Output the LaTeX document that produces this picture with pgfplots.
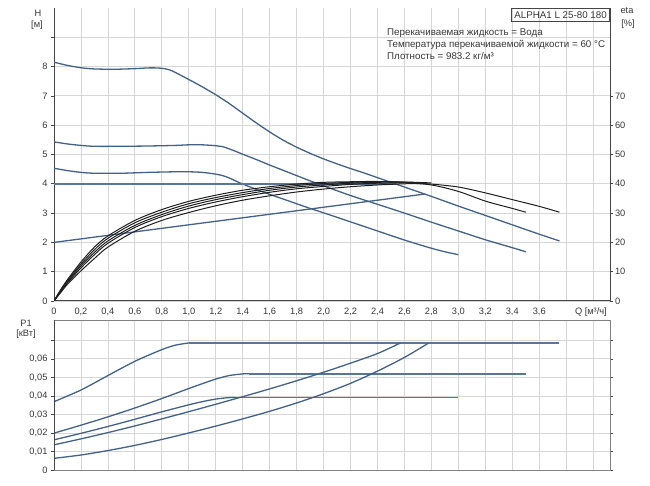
\documentclass[border=0pt]{standalone}
\usepackage{fontspec}
\setmainfont{Liberation Sans}
\usepackage{pgfplots}
\pgfplotsset{compat=1.18}
\definecolor{curveblue}{RGB}{66,98,136}
\definecolor{flatblue}{RGB}{88,118,152}
\definecolor{gridgray}{RGB}{214,214,214}
\definecolor{axgray}{RGB}{70,70,70}
\definecolor{boxgray}{RGB}{130,130,130}
\definecolor{txtgray}{RGB}{55,55,55}
\newcommand{\fs}{\fontsize{9.3}{11}\selectfont}
\newcommand{\finfo}{\fontsize{9.8}{11}\selectfont}
\pgfplotsset{
  chartbase/.style={
    scale only axis, width=556bp, xmin=0, xmax=4.125,
    xtick={0,0.2,0.4,0.6,0.8,1.0,1.2,1.4,1.6,1.8,2.0,2.2,2.4,2.6,2.8,3.0,3.2,3.4,3.6,3.8,4.0},
    grid=major, major grid style={gridgray, line width=0.8bp},
    tick label style={font=\fs, text=txtgray},
    tick align=outside, major tick length=3bp,
    tick style={axgray, line width=0.7bp},
    scaled ticks=false,
  },
  bluecurve/.style={curveblue, line width=1.3bp, smooth},
  straightblue/.style={flatblue, line width=1.6bp},
  blackcurve/.style={black!88, line width=1.0bp, smooth},
}
\begin{document}
\begin{tikzpicture}
\useasboundingbox (0bp,0bp) rectangle (650bp,486bp);
% ---------------- top panel: H ----------------
\begin{axis}[chartbase, at={(54bp,185bp)}, anchor=south west, height=293bp,
  ymin=0, ymax=10, ytick={0,1,2,3,4,5,6,7,8,9},
  yticklabels={0,1,2,3,4,5,6,7,8,{}},
  xticklabels={0,{0,2},{0,4},{0,6},{0,8},{1,0},{1,2},{1,4},{1,6},{1,8},{2,0},{2,2},{2,4},{2,6},{2,8},{3,0},{3,2},{3,4},{3,6},{},{}},
  axis x line*=bottom, axis y line*=left,
  axis line style={axgray, line width=1bp},
  xtick style={draw=none},
  xticklabel style={yshift=-1bp},
]
% speed III
\addplot[bluecurve] coordinates {(0,8.15)(0.1,8.04)(0.2,7.96)(0.3,7.92)(0.45,7.91)(0.6,7.93)(0.7,7.955)(0.78,7.95)(0.85,7.9)(0.9,7.8)(1.0,7.56)(1.1,7.31)(1.2,7.04)(1.3,6.74)(1.4,6.41)(1.5,6.08)(1.6,5.77)(1.7,5.49)(1.8,5.25)(1.9,5.04)(2.0,4.85)(2.1,4.68)(2.2,4.52)(2.3,4.37)(2.4,4.21)(2.5,4.05)(2.6,3.89)(2.7,3.73)(2.8,3.57)(3.0,3.24)(3.2,2.92)(3.4,2.6)(3.6,2.28)(3.75,2.05)};
% speed II
\addplot[bluecurve] coordinates {(0,5.43)(0.1,5.36)(0.2,5.31)(0.3,5.28)(0.5,5.28)(0.7,5.29)(0.9,5.31)(1.0,5.33)(1.1,5.33)(1.2,5.3)(1.25,5.27)(1.33,5.14)(1.4,5.01)(1.5,4.83)(1.6,4.64)(1.7,4.46)(1.8,4.28)(1.9,4.1)(2.0,3.93)(2.2,3.6)(2.4,3.3)(2.6,3.0)(2.8,2.69)(3.0,2.39)(3.2,2.09)(3.4,1.82)(3.5,1.68)};
% speed I
\addplot[bluecurve] coordinates {(0,4.53)(0.1,4.45)(0.2,4.39)(0.3,4.36)(0.5,4.36)(0.7,4.39)(0.9,4.41)(1.0,4.41)(1.1,4.39)(1.2,4.33)(1.25,4.28)(1.3,4.2)(1.38,4.03)(1.5,3.81)(1.6,3.64)(1.7,3.48)(1.8,3.32)(1.9,3.16)(2.0,3.01)(2.2,2.7)(2.4,2.39)(2.6,2.08)(2.8,1.8)(2.9,1.68)(3.0,1.58)};
% constant pressure
\addplot[straightblue] coordinates {(0,4.0)(2.54,4.0)};
% proportional pressure
\addplot[curveblue, line width=1.3bp] coordinates {(0,2.0)(2.75,3.65)};
\end{axis}
% ---------------- top panel: eta (right axis) ----------------
\begin{axis}[scale only axis, width=556bp, height=293bp, at={(54bp,185bp)}, anchor=south west,
  xmin=0, xmax=4.125, ymin=0, ymax=100,
  axis x line=none, axis y line*=right,
  axis line style={axgray, line width=1bp},
  ytick={0,10,20,30,40,50,60,70}, yticklabels={0,10,20,30,40,50,60,70},
  tick label style={font=\fs, text=txtgray},
  tick align=outside, major tick length=3bp, tick style={axgray, line width=0.7bp},
  yticklabel style={xshift=-1.5bp},
]
\addplot[blackcurve] coordinates {(0,0)(0.05,3.9)(0.1,7.3)(0.2,13.3)(0.3,18.4)(0.4,22.2)(0.6,27.5)(0.8,31.2)(1.0,34.0)(1.2,36.1)(1.4,37.8)(1.6,39.0)(1.8,39.9)(2.0,40.5)(2.2,40.7)(2.35,40.8)(2.5,40.7)(2.6,40.5)};
\addplot[blackcurve] coordinates {(0,0)(0.05,3.7)(0.1,6.9)(0.2,12.6)(0.3,17.5)(0.4,21.4)(0.6,26.7)(0.8,30.3)(1.0,33.2)(1.2,35.3)(1.4,37.0)(1.6,38.4)(1.8,39.4)(2.0,40.1)(2.2,40.5)(2.4,40.7)(2.5,40.7)(2.7,40.4)};
\addplot[blackcurve] coordinates {(0,0)(0.05,3.5)(0.1,6.5)(0.2,12.0)(0.3,16.6)(0.4,20.5)(0.6,25.8)(0.8,29.5)(1.0,32.4)(1.2,34.6)(1.4,36.3)(1.6,37.8)(1.8,38.9)(2.0,39.6)(2.2,40.2)(2.4,40.5)(2.6,40.6)(2.8,40.3)};
\addplot[blackcurve] coordinates {(0,0)(0.05,3.2)(0.1,6.2)(0.2,11.3)(0.3,15.8)(0.4,19.7)(0.6,25.1)(0.8,28.8)(1.0,31.6)(1.2,33.8)(1.4,35.6)(1.6,37.1)(1.8,38.3)(2.0,39.1)(2.2,39.8)(2.4,40.2)(2.6,40.3)(2.8,39.6)(3.0,37.4)(3.2,34.1)(3.4,31.6)(3.5,30.3)};
\addplot[blackcurve] coordinates {(0,0)(0.05,2.9)(0.1,5.7)(0.2,10.3)(0.3,14.5)(0.4,18.4)(0.6,23.8)(0.8,27.5)(1.0,30.2)(1.2,32.5)(1.4,34.4)(1.6,35.9)(1.8,37.2)(2.0,38.2)(2.2,39.0)(2.4,39.6)(2.6,40.0)(2.7,40.1)(2.8,39.9)(3.0,38.9)(3.2,36.9)(3.4,34.6)(3.6,32.3)(3.75,30.3)};
\end{axis}
% ---------------- bottom panel: P1 ----------------
\begin{axis}[chartbase, at={(54bp,16bp)}, anchor=south west, height=150bp,
  ymin=0, ymax=0.081, ytick={0,0.01,0.02,0.03,0.04,0.05,0.06,0.07},
  yticklabels={0,{0,01},{0,02},{0,03},{0,04},{0,05},{0,06},{}},
  xticklabels={}, xtick style={draw=none},
  axis line style={boxgray, line width=0.9bp},
]
\addplot[bluecurve] coordinates {(0,0.0369)(0.2,0.0432)(0.4,0.0510)(0.6,0.0587)(0.8,0.0650)(0.9,0.0674)(1.0,0.0686)};
\addplot[straightblue] coordinates {(1.0,0.0686)(3.75,0.0686)};
\addplot[bluecurve] coordinates {(0,0.0199)(0.2,0.0242)(0.4,0.0287)(0.6,0.0335)(0.8,0.0386)(1.0,0.0440)(1.1,0.0466)(1.2,0.0491)(1.3,0.0510)(1.4,0.0519)(1.45,0.0520)};
\addplot[straightblue] coordinates {(1.45,0.0520)(3.5,0.0520)};
\addplot[bluecurve] coordinates {(0,0.0163)(0.2,0.0198)(0.4,0.0235)(0.6,0.0274)(0.8,0.0314)(1.0,0.0352)(1.1,0.0369)(1.2,0.0383)(1.3,0.0391)(1.35,0.0392)};
\addplot[straightblue] coordinates {(1.35,0.0392)(3.0,0.0392)};
\addplot[bluecurve] coordinates {(0,0.0136)(0.2,0.0168)(0.4,0.0202)(0.6,0.0238)(0.8,0.0276)(1.0,0.0315)(1.2,0.0355)(1.4,0.0396)(1.6,0.0438)(1.8,0.0482)(2.0,0.0528)(2.2,0.0577)(2.4,0.0629)(2.57,0.0686)};
\addplot[bluecurve] coordinates {(0,0.0063)(0.2,0.0081)(0.4,0.0105)(0.6,0.0133)(0.8,0.0165)(1.0,0.0200)(1.2,0.0237)(1.4,0.0276)(1.6,0.0317)(1.8,0.0362)(2.0,0.0412)(2.2,0.0468)(2.4,0.0534)(2.6,0.0608)(2.78,0.0686)};
\end{axis}
\draw[axgray, line width=1bp] (54bp,16bp) -- (54bp,166bp);
% ---------------- labels ----------------
\begin{scope}[every node/.style={font=\fs, text=txtgray, inner sep=0pt}]
\node at (38bp,473bp) {H};
\node at (37bp,461bp) {[м]};
\node at (627bp,475bp) {eta};
\node at (628bp,462bp) {[\%]};
\node at (26bp,163bp) {P1};
\node at (26bp,152bp) {[кВт]};
\node[anchor=east] at (607bp,174bp) {Q [м³/ч]};
\node[anchor=west, font=\finfo] at (387bp,453bp) {Перекачиваемая жидкость = Вода};
\node[anchor=west, font=\finfo] at (387bp,441.5bp) {Температура перекачиваемой жидкости = 60 °C};
\node[anchor=west, font=\finfo] at (387bp,430bp) {Плотность = 983.2 кг/м³};
\node[draw=axgray, line width=0.6bp, inner xsep=3bp, inner ysep=3bp, anchor=north east, font=\finfo] at (610bp,477.5bp) {ALPHA1 L 25-80 180};
\end{scope}
\end{tikzpicture}
\end{document}
